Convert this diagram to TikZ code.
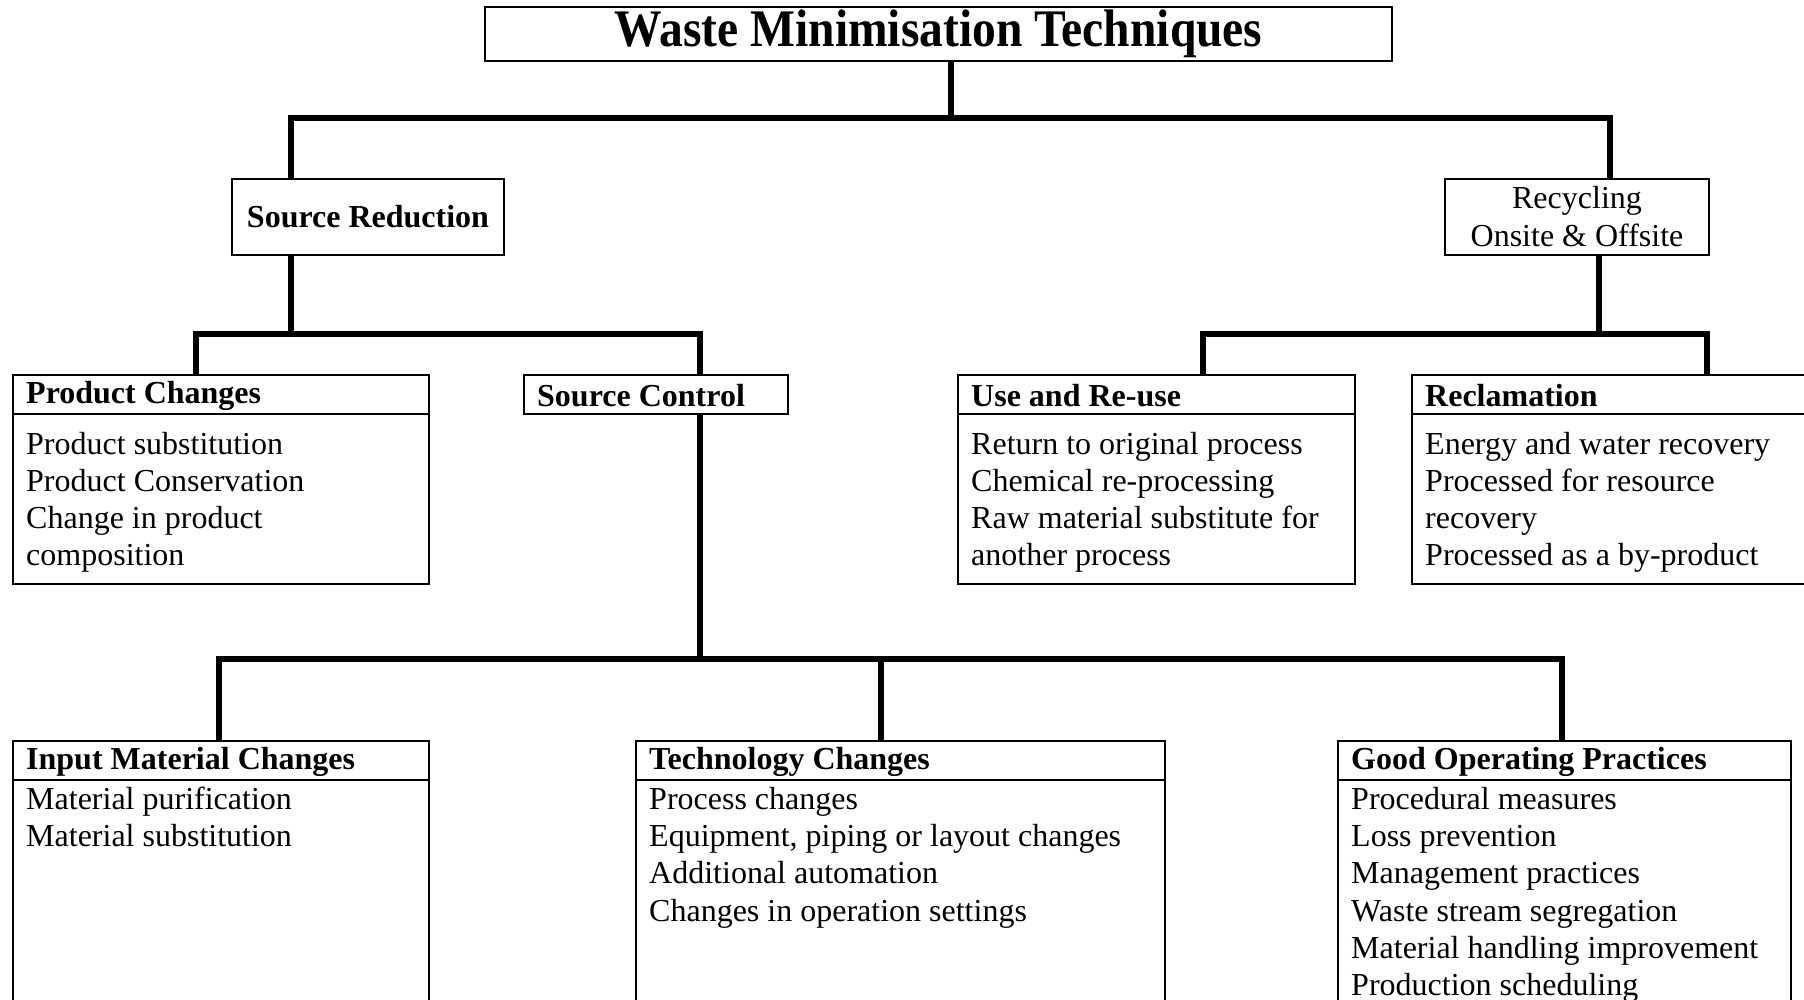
\documentclass[tikz,border=0pt]{standalone}
\usepackage{fontspec}
\setmainfont{Liberation Serif}
\begin{document}
\begin{tikzpicture}[x=1pt,y=-1pt,
  box/.style={draw, line width=2pt, inner sep=0pt, anchor=north west},
  conn/.style={line width=6.5pt, line join=miter},
  bodytext/.style={inner sep=0pt, align=left, font=\fontsize{32}{37.2}\selectfont},
  hdtext/.style={anchor=west, inner sep=0pt, font=\bfseries\fontsize{32}{37}\selectfont}]
\useasboundingbox (0,0) rectangle (1804,1000);
\clip (0,0) rectangle (1804,1000);
\fill[white] (0,0) rectangle (1804,1000);

% title
\node[box, minimum width=907pt, minimum height=54pt, font=\bfseries\fontsize{48}{50}\selectfont] (title) at (484,6) {\raisebox{-2pt}{\scalebox{0.99}[1.1]{Waste Minimisation Techniques}}};

% level 1
\node[box, minimum width=272pt, minimum height=76pt, font=\bfseries\fontsize{32}{37}\selectfont] (sr) at (231,178) {Source Reduction};
\node[box, minimum width=264pt, minimum height=76pt, align=center, font=\fontsize{32}{38}\selectfont] (rc) at (1444,178) {Recycling\\Onsite \& Offsite};

% level 2
\node[box, minimum width=416pt, minimum height=39pt] (pch) at (12,374) {};
\node[box, minimum width=416pt, minimum height=170pt] (pcb) at (12,413) {};
\node[hdtext] (pct) at ([xshift=14pt,yshift=-1.5pt]pch.west) {Product Changes};
\node[bodytext, anchor=west] (pcl) at ([xshift=14pt,yshift=-3.5pt]pcb.west) {Product substitution\\Product Conservation\\Change in product\\composition};

\node[box, minimum width=264pt, minimum height=39pt] (sc) at (523,374) {};
\node[hdtext] (sct) at ([xshift=14pt,yshift=-1.5pt]sc.west) {Source Control};

\node[box, minimum width=397pt, minimum height=39pt] (uh) at (957,374) {};
\node[box, minimum width=397pt, minimum height=170pt] (ub) at (957,413) {};
\node[hdtext] (ut) at ([xshift=14pt,yshift=-1.5pt]uh.west) {Use and Re-use};
\node[bodytext, anchor=west] (ul) at ([xshift=14pt,yshift=-3.5pt]ub.west) {Return to original process\\Chemical re-processing\\Raw material substitute for\\another process};

\node[box, minimum width=420pt, minimum height=39pt] (rh) at (1411,374) {};
\node[box, minimum width=420pt, minimum height=170pt] (rb) at (1411,413) {};
\node[hdtext] (rt) at ([xshift=14pt,yshift=-1.5pt]rh.west) {Reclamation};
\node[bodytext, anchor=west] (rl) at ([xshift=14pt,yshift=-3.5pt]rb.west) {Energy and water recovery\\Processed for resource\\recovery\\Processed as a by-product};

% level 3
\node[box, minimum width=416pt, minimum height=39pt] (ih) at (12,740) {};
\node[box, minimum width=416pt, minimum height=300pt] (ib) at (12,779) {};
\node[hdtext] (it) at ([xshift=14pt,yshift=-1.5pt]ih.west) {Input Material Changes};
\node[bodytext, anchor=north west] (il) at ([xshift=14pt,yshift=-8pt]ib.north west) {Material purification\\Material substitution};

\node[box, minimum width=529pt, minimum height=39pt] (th) at (635,740) {};
\node[box, minimum width=529pt, minimum height=300pt] (tb) at (635,779) {};
\node[hdtext] (tt) at ([xshift=14pt,yshift=-1.5pt]th.west) {Technology Changes};
\node[bodytext, anchor=north west] (tl) at ([xshift=14pt,yshift=-8pt]tb.north west) {Process changes\\Equipment, piping or layout changes\\Additional automation\\Changes in operation settings};

\node[box, minimum width=453pt, minimum height=39pt] (gh) at (1337,740) {};
\node[box, minimum width=453pt, minimum height=300pt] (gb) at (1337,779) {};
\node[hdtext] (gt) at ([xshift=14pt,yshift=-1.5pt]gh.west) {Good Operating Practices};
\node[bodytext, anchor=north west] (gl) at ([xshift=14pt,yshift=-8pt]gb.north west) {Procedural measures\\Loss prevention\\Management practices\\Waste stream segregation\\Material handling improvement\\Production scheduling};

% connectors
\coordinate (a0) at (951,118);
\coordinate (a1) at (291,118);
\coordinate (a2) at (1610,118);
\coordinate (b1) at (196,334);
\coordinate (b2) at (700,334);
\coordinate (c0) at (1599,334);
\coordinate (c1) at (1203,334);
\coordinate (c2) at (1707,334);
\coordinate (d1) at (219,659);
\coordinate (d2) at (881,659);
\coordinate (d3) at (1562,659);

\draw[conn] (title.south -| a0) -- (a0);
\draw[conn] (sr.north -| a1) -- (a1) -- (a2) -- (rc.north -| a2);
\draw[conn] (sr.south -| a1) -- (a1 |- b1);
\draw[conn] (pch.north -| b1) -- (b1) -- (b2) -- (sc.north -| b2);
\draw[conn] (rc.south -| c0) -- (c0);
\draw[conn] (uh.north -| c1) -- (c1) -- (c2) -- (rh.north -| c2);
\draw[conn] (sc.south -| b2) -- (b2 |- d1);
\draw[conn] (ih.north -| d1) -- (d1) -- (d3) -- (gh.north -| d3);
\draw[conn] (d2) -- (th.north -| d2);
\end{tikzpicture}
\end{document}
